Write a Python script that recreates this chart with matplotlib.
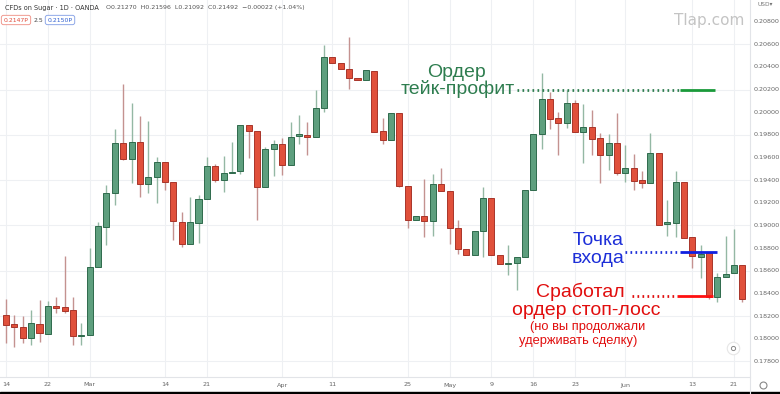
import numpy as np
import matplotlib.pyplot as plt
from matplotlib.patches import Rectangle

# дневные свечи CFD на сахар (OANDA), 14 фев - 22 июн
opens = [0.18210, 0.18128, 0.18101, 0.18004, 0.18130, 0.18042, 0.18292, 0.18278, 0.18254, 0.18024,
         0.18031, 0.18636, 0.18989, 0.19284, 0.19725, 0.19589, 0.19739, 0.19366, 0.19430, 0.19563,
         0.19381, 0.19033, 0.18836, 0.19019, 0.19234, 0.19525, 0.19401, 0.19460, 0.19481, 0.19884,
         0.19834, 0.19342, 0.19675, 0.19719, 0.19534, 0.19792, 0.19803, 0.19778, 0.20034, 0.20490,
         0.20431, 0.20381, 0.20302, 0.20288, 0.20366, 0.19834, 0.19754, 0.19995, 0.19348, 0.19048,
         0.19086, 0.19042, 0.19366, 0.19302, 0.18975, 0.18792, 0.18739, 0.18954, 0.19240, 0.18739,
         0.18660, 0.18666, 0.18724, 0.19313, 0.19807, 0.20114, 0.19946, 0.19907, 0.20078, 0.19828,
         0.19866, 0.19769, 0.19622, 0.19725, 0.19466, 0.19503, 0.19399, 0.19378, 0.19640, 0.19009,
         0.19024, 0.19386, 0.18898, 0.18723, 0.18757, 0.18371, 0.18548, 0.18578, 0.18651]
highs = [0.18351, 0.18210, 0.18201, 0.18254, 0.18342, 0.18336, 0.18371, 0.18731, 0.18366, 0.18137,
         0.18799, 0.19033, 0.19357, 0.19849, 0.20253, 0.20078, 0.19966, 0.19922, 0.19607, 0.19563,
         0.19381, 0.19116, 0.19249, 0.19269, 0.19607, 0.19543, 0.19613, 0.19739, 0.19884, 0.19884,
         0.19834, 0.19693, 0.19754, 0.19769, 0.19916, 0.19971, 0.19916, 0.20196, 0.20593, 0.20490,
         0.20431, 0.20661, 0.20302, 0.20368, 0.20366, 0.19946, 0.19995, 0.19995, 0.19348, 0.19086,
         0.19407, 0.19452, 0.19507, 0.19302, 0.19048, 0.18792, 0.18954, 0.19342, 0.19240, 0.18739,
         0.18832, 0.18724, 0.19313, 0.19807, 0.20346, 0.20178, 0.20001, 0.20200, 0.20107, 0.20072,
         0.20019, 0.19814, 0.19807, 0.19995, 0.19710, 0.19635, 0.19485, 0.19816, 0.19640, 0.19225,
         0.19483, 0.19386, 0.18898, 0.18828, 0.18757, 0.18578, 0.18907, 0.18966, 0.18651]
lows = [0.17963, 0.17930, 0.17960, 0.17945, 0.17974, 0.18042, 0.18230, 0.18225, 0.17945, 0.17945,
        0.18031, 0.18636, 0.18828, 0.19181, 0.19578, 0.19372, 0.19249, 0.19284, 0.19196, 0.19313,
        0.18872, 0.18807, 0.18836, 0.18848, 0.19234, 0.19386, 0.19293, 0.19460, 0.19452, 0.19593,
        0.19048, 0.19342, 0.19439, 0.19445, 0.19534, 0.19715, 0.19622, 0.19778, 0.19999, 0.20431,
        0.20381, 0.20204, 0.20288, 0.20288, 0.19828, 0.19719, 0.19754, 0.19340, 0.18975, 0.19048,
        0.18896, 0.18910, 0.19302, 0.18836, 0.18748, 0.18739, 0.18739, 0.18719, 0.18739, 0.18660,
        0.18567, 0.18430, 0.18724, 0.19313, 0.19675, 0.19851, 0.19622, 0.19858, 0.19828, 0.19551,
        0.19622, 0.19372, 0.19490, 0.19445, 0.19384, 0.19313, 0.19328, 0.19378, 0.19007, 0.18911,
        0.18901, 0.18892, 0.18625, 0.18541, 0.18351, 0.18327, 0.18548, 0.18578, 0.18327]
closes = [0.18122, 0.18101, 0.18004, 0.18137, 0.18048, 0.18292, 0.18269, 0.18248, 0.18024, 0.18031,
          0.18636, 0.18995, 0.19284, 0.19725, 0.19589, 0.19739, 0.19366, 0.19425, 0.19563, 0.19386,
          0.19039, 0.18836, 0.19028, 0.19231, 0.19525, 0.19401, 0.19460, 0.19475, 0.19884, 0.19834,
          0.19342, 0.19675, 0.19719, 0.19534, 0.19783, 0.19801, 0.19781, 0.20034, 0.20490, 0.20431,
          0.20381, 0.20299, 0.20288, 0.20368, 0.19828, 0.19754, 0.19995, 0.19348, 0.19048, 0.19086,
          0.19042, 0.19366, 0.19302, 0.18980, 0.18792, 0.18739, 0.18954, 0.19240, 0.18739, 0.18660,
          0.18669, 0.18724, 0.19313, 0.19807, 0.20114, 0.19937, 0.19907, 0.20078, 0.19828, 0.19866,
          0.19763, 0.19622, 0.19725, 0.19466, 0.19505, 0.19397, 0.19378, 0.19640, 0.19007, 0.19029,
          0.19386, 0.18892, 0.18728, 0.18751, 0.18371, 0.18548, 0.18573, 0.18651, 0.18348]

# подписи оси времени (номер свечи -> подпись)
tick_idx = [0, 5, 10, 19, 24, 33, 39, 48, 53, 58, 63, 68, 74, 82, 87]
tick_lbl = ['14', '22', 'Mar', '14', '21', 'Apr', '11', '25', 'May', '9', '16', '23', 'Jun', '13', '21']
price_levels = [0.178, 0.180, 0.182, 0.184, 0.186, 0.188, 0.190, 0.192, 0.194, 0.196,
                0.198, 0.200, 0.202, 0.204, 0.206, 0.208]

# уровни ордеров
tp_level = 0.2020
entry_level = 0.18766
stop_level = 0.18378

W, H = 780, 394
fig = plt.figure(figsize=(W / 100, H / 100), dpi=100)
fig.patch.set_facecolor('white')

def fx(x):
    return x / W

def fy(y):
    return 1 - y / H

ax = fig.add_axes([0, fy(377), fx(750), 377 / H])
ax.set_xlim(-0.72, 88.9)
ax.set_ylim(0.17663, 0.2099)
ax.set_facecolor('white')

# сетка
for p in price_levels[::2]:
    ax.axhline(p, color='#eef0f3', lw=0.8, zorder=0)
for t in tick_idx:
    ax.axvline(t, color='#eef0f3', lw=0.8, zorder=0)

up_fill, up_edge, up_wick = '#5e9f7e', '#2f6a4c', '#94b8a4'
dn_fill, dn_edge, dn_wick = '#e0503b', '#a8352a', '#c49290'

for i in range(len(opens)):
    o, h, l, c = opens[i], highs[i], lows[i], closes[i]
    up = c >= o
    ax.vlines(i, l, h, color=up_wick if up else dn_wick, lw=1.0, zorder=2)
    body = max(abs(c - o), 0.00012)
    ax.bar(i, body, bottom=min(o, c), width=0.72,
           color=up_fill if up else dn_fill,
           edgecolor=up_edge if up else dn_edge, linewidth=0.7, zorder=3)

for s in ax.spines.values():
    s.set_visible(False)
ax.set_xticks([])
ax.set_yticks([])

# линии ордеров: пунктир от подписи, сплошная у последних свечей
green_c, blue_c, red_c = '#2e7d4f', '#1d2fd8', '#e10e0e'
ax.hlines(tp_level, 61.0, 80.5, colors=green_c, lw=2, linestyles=(0, (0.6, 1.2)), zorder=4)
ax.hlines(tp_level, 80.5, 84.7, colors='#1a9a3a', lw=2, zorder=4)
ax.hlines(entry_level, 74.0, 80.5, colors=blue_c, lw=2, linestyles=(0, (0.6, 1.2)), zorder=4)
ax.hlines(entry_level, 80.5, 84.9, colors='#1020e0', lw=2, zorder=5)
ax.hlines(stop_level, 74.8, 80.2, colors=red_c, lw=2, linestyles=(0, (0.6, 1.2)), zorder=4)
ax.hlines(stop_level, 80.2, 84.5, colors='#ff1010', lw=2, zorder=5)

fam = ['Liberation Sans', 'DejaVu Sans']
fig.text(fx(457), fy(77), 'Ордер', color=green_c, fontsize=14, ha='center', va='baseline', family=fam)
fig.text(fx(458), fy(94), 'тейк-профит', color=green_c, fontsize=14, ha='center', va='baseline', family=fam)
fig.text(fx(598), fy(245), 'Точка', color=blue_c, fontsize=14, ha='center', va='baseline', family=fam)
fig.text(fx(598), fy(263), 'входа', color=blue_c, fontsize=14, ha='center', va='baseline', family=fam)
fig.text(fx(580), fy(297), 'Сработал', color=red_c, fontsize=14, ha='center', va='baseline', family=fam)
fig.text(fx(586), fy(315), 'ордер стоп-лосс', color=red_c, fontsize=14, ha='center', va='baseline', family=fam)
fig.text(fx(588), fy(330), '(но вы продолжали', color=red_c, fontsize=9.3, ha='center', va='baseline', family=fam)
fig.text(fx(578), fy(344), 'удерживать сделку)', color=red_c, fontsize=9.3, ha='center', va='baseline', family=fam)

# заголовок TradingView
fig.text(fx(5), fy(8), 'CFDs on Sugar · 1D · OANDA', fontsize=4.7, color='#333333', va='center')
fig.text(fx(106), fy(8), 'O0.21270  H0.21596  L0.21092  C0.21492  −0.00022 (+1.04%)',
         fontsize=4.5, color='#555555', va='center')
fig.text(fx(16), fy(20), '0.2147P', fontsize=4.4, color='#e04b3a', ha='center', va='center',
         bbox=dict(boxstyle='round,pad=0.35', fc='white', ec='#f09a90', lw=0.7))
fig.text(fx(38), fy(20), '2.5', fontsize=4.4, color='#444444', ha='center', va='center')
fig.text(fx(60), fy(20), '0.2150P', fontsize=4.4, color='#2f5fd0', ha='center', va='center',
         bbox=dict(boxstyle='round,pad=0.35', fc='white', ec='#8fa8e8', lw=0.7))
fig.text(fx(744), fy(20), 'Tlap.com', fontsize=11, color='#c4c4c4', ha='right', va='center')

# шкала цен справа
fig.add_artist(plt.Line2D([fx(750), fx(750)], [fy(0), fy(394)], color='#e2e4e8', lw=0.8))
fig.add_artist(plt.Line2D([fx(0), fx(750)], [fy(377), fy(377)], color='#e2e4e8', lw=0.8))
fig.text(fx(757), fy(5), 'USD▾', fontsize=4.2, color='#777777', va='center')
for p in price_levels:
    yp = ax.transData.transform((0, p))[1] / H
    fig.text(fx(754), yp, f'{p:.5f}', fontsize=4.6, color='#666666', va='center')

# шкала времени
for t, lb in zip(tick_idx, tick_lbl):
    xp = ax.transData.transform((t, 0.18))[0] / W
    fig.text(xp, fy(385), lb, fontsize=4.6, color='#666666', ha='center', va='center')

fig.add_artist(plt.Line2D([fx(763)], [fy(385)], marker='o', ms=5, mfc='white', mec='#888888', mew=0.8))
fig.add_artist(plt.Line2D([fx(733)], [fy(348)], marker='o', ms=9, mfc='white', mec='#e6e6e6', mew=0.8))
fig.add_artist(plt.Line2D([fx(733)], [fy(348)], marker='o', ms=3, mfc='white', mec='#888888', mew=0.7))
fig.add_artist(Rectangle((0, 0), 1, 2 / H, transform=fig.transFigure, color='black'))

fig.savefig('out.png', dpi=100)
